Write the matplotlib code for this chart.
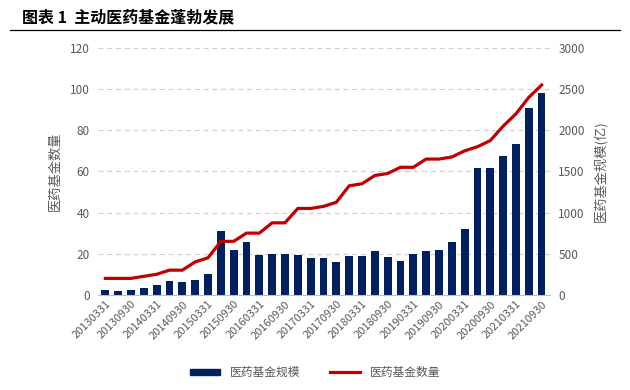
import matplotlib
matplotlib.use('Agg')
import matplotlib.pyplot as plt
from matplotlib.lines import Line2D
from matplotlib.patches import Patch

plt.rcParams['font.family'] = ['Noto Sans CJK SC', 'DejaVu Sans']

# 季度 2013Q1 - 2021Q3
quarters = []
for y in range(2013, 2022):
    for md in ['0331', '0630', '0930', '1231']:
        quarters.append(f'{y}{md}')
quarters = quarters[:35]

# 医药基金规模(亿)
fund_size = [53, 45, 53, 81, 122, 163, 155, 183, 256, 780,
             549, 638, 488, 496, 496, 488, 447, 450, 405, 473,
             473, 533, 465, 412, 497, 533, 545, 642, 804, 1543,
             1543, 1689, 1838, 2266, 2452]

# 医药基金数量
fund_count = [8, 8, 8, 9, 10, 12, 12, 16, 18, 26,
              26, 30, 30, 35, 35, 42, 42, 43, 45, 53,
              54, 58, 59, 62, 62, 66, 66, 67, 70, 72,
              75, 82, 88, 96, 102]

navy = '#002060'
red = '#C00000'
gray = '#595959'

fig = plt.figure(figsize=(6.3, 3.9), dpi=100)
fig.text(0.035, 0.955, '图表 1  主动医药基金蓬勃发展', fontsize=11.5,
         fontweight='bold', va='center', ha='left', color='black')
fig.add_artist(Line2D([0.016, 0.984], [0.922, 0.922], color='black', lw=0.9))

ax = fig.add_axes([0.156, 0.244, 0.717, 0.633])
ax2 = ax.twinx()

x = list(range(len(quarters)))
ax2.bar(x, fund_size, width=0.6, color=navy, zorder=2)
ax2.set_ylim(0, 3000)
ax2.set_yticks(range(0, 3001, 500))

ax.set_zorder(ax2.get_zorder() + 1)
ax.patch.set_visible(False)
ax.plot(x, fund_count, color=red, lw=2.3, zorder=3)
ax.set_ylim(0, 120)
ax.set_yticks(range(0, 121, 20))
ax.set_xlim(-0.55, 34.65)

for yv in range(20, 121, 20):
    ax2.axhline(yv * 25, color='#D0D0D0', lw=0.9, ls=(0, (4, 3)), zorder=1)

ax.set_xticks(x[::2])
ax.set_xticklabels(quarters[::2], rotation=45, ha='right',
                   rotation_mode='anchor', fontsize=8, color=gray)
ax.tick_params(axis='x', length=0, pad=3)

for a in (ax, ax2):
    for s in a.spines.values():
        s.set_visible(False)
    a.tick_params(axis='y', length=0, labelsize=8.5, labelcolor=gray, pad=6)
ax.spines['bottom'].set_visible(True)
ax.spines['bottom'].set_color('#BFBFBF')

ax.set_ylabel('医药基金数量', fontsize=9.5, color=gray, labelpad=6)
ax2.set_ylabel('医药基金规模(亿)', fontsize=9.5, color=gray, labelpad=6)

handles = [Patch(color=navy), Line2D([0], [0], color=red, lw=2.3)]
fig.legend(handles, ['医药基金规模', '医药基金数量'], loc='center',
           bbox_to_anchor=(0.5, 0.045), ncol=2, frameon=False, fontsize=8.5,
           labelcolor=gray, handlelength=2.6, handleheight=0.4,
           columnspacing=2.5)

fig.savefig('out.png', dpi=100)
